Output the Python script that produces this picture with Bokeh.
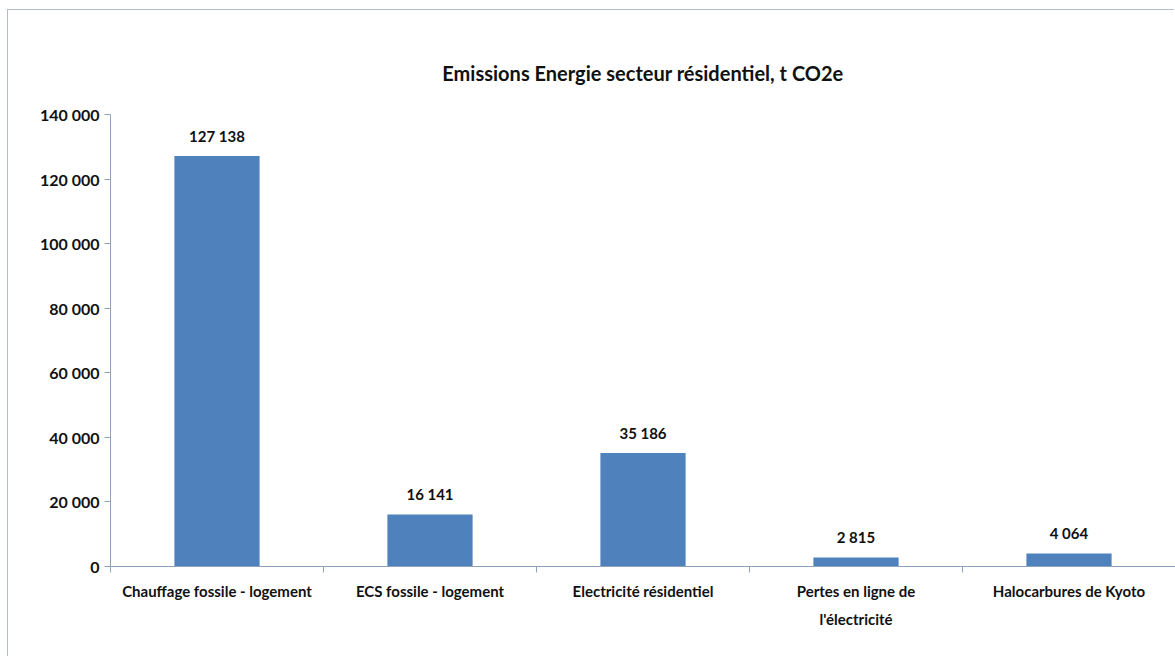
from bokeh.plotting import figure
from bokeh.models import Range1d, FixedTicker
from bokeh.core.properties import value
from bokeh.embed import file_html
from bokeh.resources import INLINE

# Emissions by residential energy use, tonnes CO2e
categories = [
    "Chauffage fossile - logement",
    "ECS fossile - logement",
    "Electricité résidentiel",
    "Pertes en ligne de\nl'électricité",
    "Halocarbures de Kyoto",
]
emissions = [127138, 16141, 35186, 2815, 4064]
y_ticks = [0, 20000, 40000, 60000, 80000, 100000, 120000, 140000]
y_tick_labels = ["0", "20 000", "40 000", "60 000", "80 000", "100 000", "120 000", "140 000"]

FONT = "Lato"
BAR = "#4F81BD"
AXIS = "#8ea3bb"
FRAME = "#b4bcc8"


def fr_number(v):
    return f"{v:,}".replace(",", " ")


centers = [i + 0.5 for i in range(len(categories))]
bounds = list(range(len(categories) + 1))
value_labels = [fr_number(v) for v in emissions]

p = figure(
    width=1167, height=647,
    x_range=Range1d(0, len(categories)),
    y_range=Range1d(y_ticks[0], y_ticks[-1]),
    output_backend="svg", toolbar_location=None,
    min_border_left=102, min_border_right=0,
    min_border_top=104, min_border_bottom=91,
    title="Emissions Energie secteur résidentiel, t CO2e",
)
# chart-area edge on the left and top, drawn as a 1px shadow outside the plot box
p.margin = (10, 0, 0, 8)
p.styles = {"box-shadow": f"-1px -1px 0 0 {FRAME}"}

p.title.align = "center"
p.title.text_font = FONT
p.title.text_font_size = "20px"
p.title.text_font_style = "bold"
p.title.text_color = "#111111"
p.title.standoff = 60

p.outline_line_color = None
p.xgrid.grid_line_color = None
p.ygrid.grid_line_color = None
p.background_fill_color = "white"
p.border_fill_color = "white"

p.vbar(x=centers, top=emissions, width=0.4, fill_color=BAR, line_color=None)

p.text(
    x=centers, y=emissions, text=value_labels,
    text_font=value(FONT), text_font_size="15px", text_font_style="bold",
    text_color="#111111", text_align="center", text_baseline="bottom",
    y_offset=-11,
)

# x axis: labels at category centres, ticks on the category boundaries
xa = p.xaxis[0]
xa.ticker = FixedTicker(ticks=centers, minor_ticks=bounds)
xa.major_label_overrides = {c: lab for c, lab in zip(centers, categories)}
xa.major_tick_out = 0
xa.major_tick_in = 0
xa.minor_tick_out = 6
xa.minor_tick_in = 0
xa.minor_tick_line_color = AXIS
xa.axis_line_color = AXIS
xa.major_label_standoff = 9
xa.major_label_text_font = FONT
xa.major_label_text_font_size = "15px"
xa.major_label_text_font_style = "bold"
xa.major_label_text_color = "#111111"
xa.major_label_text_line_height = 1.6

ya = p.yaxis[0]
ya.ticker = FixedTicker(ticks=y_ticks, minor_ticks=[])
ya.major_label_overrides = {t: lab for t, lab in zip(y_ticks, y_tick_labels)}
ya.major_tick_out = 6
ya.major_tick_in = 0
ya.major_tick_line_color = AXIS
ya.axis_line_color = AXIS
ya.major_label_standoff = 5
ya.major_label_text_font = FONT
ya.major_label_text_font_size = "16px"
ya.major_label_text_font_style = "bold"
ya.major_label_text_color = "#111111"

open("out.html", "w").write(file_html(p, INLINE))
